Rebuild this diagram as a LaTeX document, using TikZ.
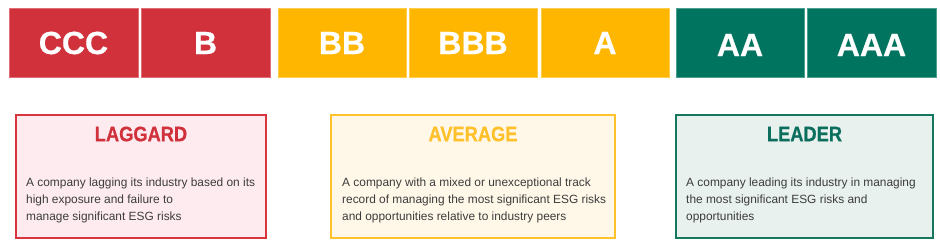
\documentclass[tikz,border=0pt]{standalone}
\usepackage{fontspec}
\setmainfont{Liberation Sans}
\newfontfamily\titlefont[FakeStretch=0.87,FakeBold=0.6]{Liberation Sans}
\newfontfamily\gradefont[FakeBold=0.5]{Liberation Sans}
\definecolor{cred}{HTML}{D1313B}
\definecolor{cyel}{HTML}{FFB600}
\definecolor{cgrn}{HTML}{00745F}
\definecolor{fred}{HTML}{FDEBF0}
\definecolor{fyel}{HTML}{FFF8E9}
\definecolor{fgrn}{HTML}{E8F1EE}
\definecolor{bred}{HTML}{D9353F}
\definecolor{byel}{HTML}{FFC22A}
\definecolor{bgrn}{HTML}{16775F}
\definecolor{tyel}{HTML}{FFC12B}
\definecolor{tgrn}{HTML}{0C6E5C}
\definecolor{body}{HTML}{3C3C3C}
\tikzset{
  grade/.style={fill=#1, draw=#1!70!white, line width=0.7pt},
  gradelabel/.style={text=white, font=\gradefont\bfseries\fontsize{32}{36}\selectfont, inner sep=0pt},
  catbox/.style={fill=f#1, draw=b#1, line width=1.6pt},
  cattitle/.style={font=\titlefont\bfseries\fontsize{21}{24}\selectfont, inner sep=0pt},
  catbody/.style={text=body, font=\fontsize{11.9}{16.7}\selectfont, align=left, inner sep=0pt, anchor=north west}
}
\begin{document}
\begin{tikzpicture}[x=1pt,y=-1pt]
\useasboundingbox (0,0) rectangle (940,247);
% grade boxes
\draw[grade=cred] (9,8) rectangle (138,77);
\draw[grade=cred] (141,8) rectangle (270,77);
\draw[grade=cyel] (278,8) rectangle (406,77);
\draw[grade=cyel] (409,8) rectangle (537,77);
\draw[grade=cyel] (541,8) rectangle (669,77);
\draw[grade=cgrn] (676,8) rectangle (804,77);
\draw[grade=cgrn] (807,8) rectangle (936,77);
\node[gradelabel] (ccc) at (73.5,43) {CCC};
\node[gradelabel] (b) at (205.5,43) {B};
\node[gradelabel] (bb) at (342,43) {BB};
\node[gradelabel] (bbb) at (473,43) {BBB};
\node[gradelabel] (a) at (605,43) {A};
\node[gradelabel] (aa) at (740,45) {AA};
\node[gradelabel] (aaa) at (871.5,45) {AAA};
% category boxes
\draw[catbox=red] (16,115) rectangle (266,238);
\draw[catbox=yel] (331,115) rectangle (615,238);
\draw[catbox=grn] (676,115) rectangle (933,238);
\node[cattitle, text=cred] (lag) at (141,134) {LAGGARD};
\node[cattitle, text=tyel] (avg) at (473,134) {AVERAGE};
\node[cattitle, text=tgrn] (lead) at (804.5,134) {LEADER};
\node[catbody] (lagt) at (26,178) {A company lagging its industry based on its\\high exposure and failure to\\manage significant ESG risks};
\node[catbody] (avgt) at (342,178) {A company with a mixed or unexceptional track\\record of managing the most significant ESG risks\\and opportunities relative to industry peers};
\node[catbody] (leadt) at (686,178) {A company leading its industry in managing\\the most significant ESG risks and\\opportunities};
\end{tikzpicture}
\end{document}
